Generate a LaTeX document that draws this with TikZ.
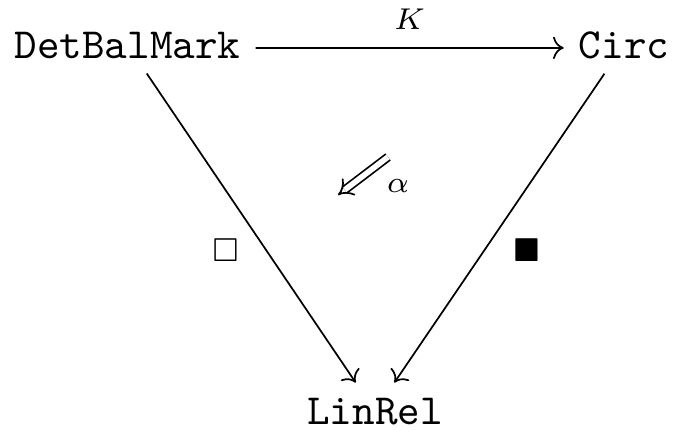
\documentclass[tikz,border=0pt]{standalone}
\usepackage{amssymb}
\usetikzlibrary{arrows.meta}
\begin{document}
\begin{tikzpicture}[x=0.2326pt,y=-0.2326pt,
  obj/.style={font=\ttfamily, anchor=base, inner sep=3.33pt},
  arr/.style={draw, line width=0.4pt, -{To}},
  lbl/.style={font=\scriptsize, inner sep=0pt}]
\useasboundingbox (0,0) rectangle (679,436);
\node[obj] (D) at (127.5,58) {DetBalMark};
\node[obj] (C) at (624,58) {Circ};
\node[obj] (L) at (375,424) {LinRel};
\draw[arr] ([yshift=-0.7pt]D.east) -- node[lbl, above=4pt] (K) {$K$} ([yshift=-0.7pt]C.west);
\draw[arr] (D) -- (L);
\draw[arr] (C) -- (L);
\coordinate (a1) at (388,157);
\coordinate (a2) at (338,195);
\draw[line width=0.4pt, double, double distance=1.3pt, -{Implies}] (a1) -- (a2);
\node[lbl] (al) at (398,186) {$\alpha$};
\node[lbl] (sq1) at (226,250) {$\square$};
\node[lbl] (sq2) at (527,250) {$\blacksquare$};
\end{tikzpicture}
\end{document}
